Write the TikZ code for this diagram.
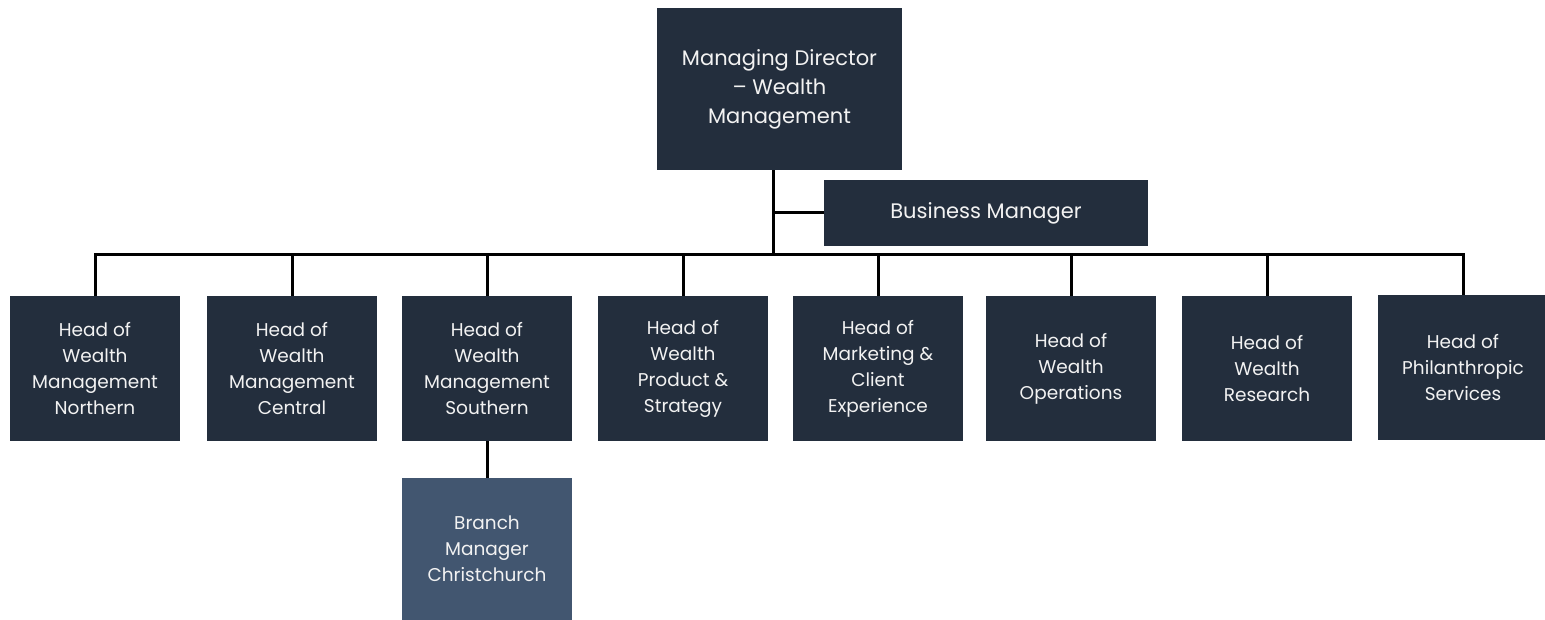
\documentclass[tikz,border=0pt]{standalone}
\usepackage{fontspec}
\setmainfont{Poppins}
\begin{document}
\begin{tikzpicture}[x=1pt,y=-1pt,
  orgbox/.style={fill=boxdark, text=boxtext, inner sep=0pt, align=center,
    font=\fontsize{18.5}{26}\selectfont},
  bigbox/.style={orgbox, font=\fontsize{21}{29}\selectfont},
  headbox/.style={orgbox, minimum width=170pt, minimum height=145pt},
  link/.style={draw=black, line width=3pt}]
\definecolor{boxdark}{HTML}{232E3D}
\definecolor{boxbranch}{HTML}{425670}
\definecolor{boxtext}{HTML}{F2F2F2}
\useasboundingbox (0,0) rectangle (1545,620);

% top level
\node[bigbox, minimum width=245pt, minimum height=162pt] (md) at (779.5,89)
  {Managing Director\\– Wealth\\Management};
\node[bigbox, minimum width=324pt, minimum height=66pt] (bm) at (986,213)
  {Business Manager};

% heads of department
\node[headbox] (h1) at (95,368.5)   {Head of\\Wealth\\Management\\Northern};
\node[headbox] (h2) at (292,368.5)  {Head of\\Wealth\\Management\\Central};
\node[headbox] (h3) at (487,368.5)  {Head of\\Wealth\\Management\\Southern};
\node[headbox] (h4) at (683,368.5)  {Head of\\Wealth\\Product \&\\Strategy};
\node[headbox] (h5) at (878,368.5)  {Head of\\Marketing \&\\Client\\Experience};
\node[headbox] (h6) at (1071,368.5) {Head of\\Wealth\\Operations};
\node[headbox] (h7) at (1267,368.5) {Head of\\Wealth\\Research};
\node[headbox] (h8) at (1463,367.5) {Head of\\Philanthropic\\Services};

% branch
\node[orgbox, fill=boxbranch, minimum width=170pt, minimum height=142pt] (br) at (487,549)
  {Branch\\Manager\\Christchurch};

% connectors
\coordinate (trunk) at (773,255);
\coordinate (busL) at (h1.north |- trunk);
\coordinate (busR) at (h8.north |- trunk);
\draw[link] (md.south -| trunk) -- (trunk);
\draw[link] (bm.west -| trunk) -- (bm.west);
\draw[link, line cap=rect] (busL) -- (busR);
\foreach \h in {h1,h2,h3,h4,h5,h6,h7,h8}
  \draw[link] (\h.north |- trunk) -- (\h.north);
\draw[link] (h3.south) -- (br.north);
\end{tikzpicture}
\end{document}
